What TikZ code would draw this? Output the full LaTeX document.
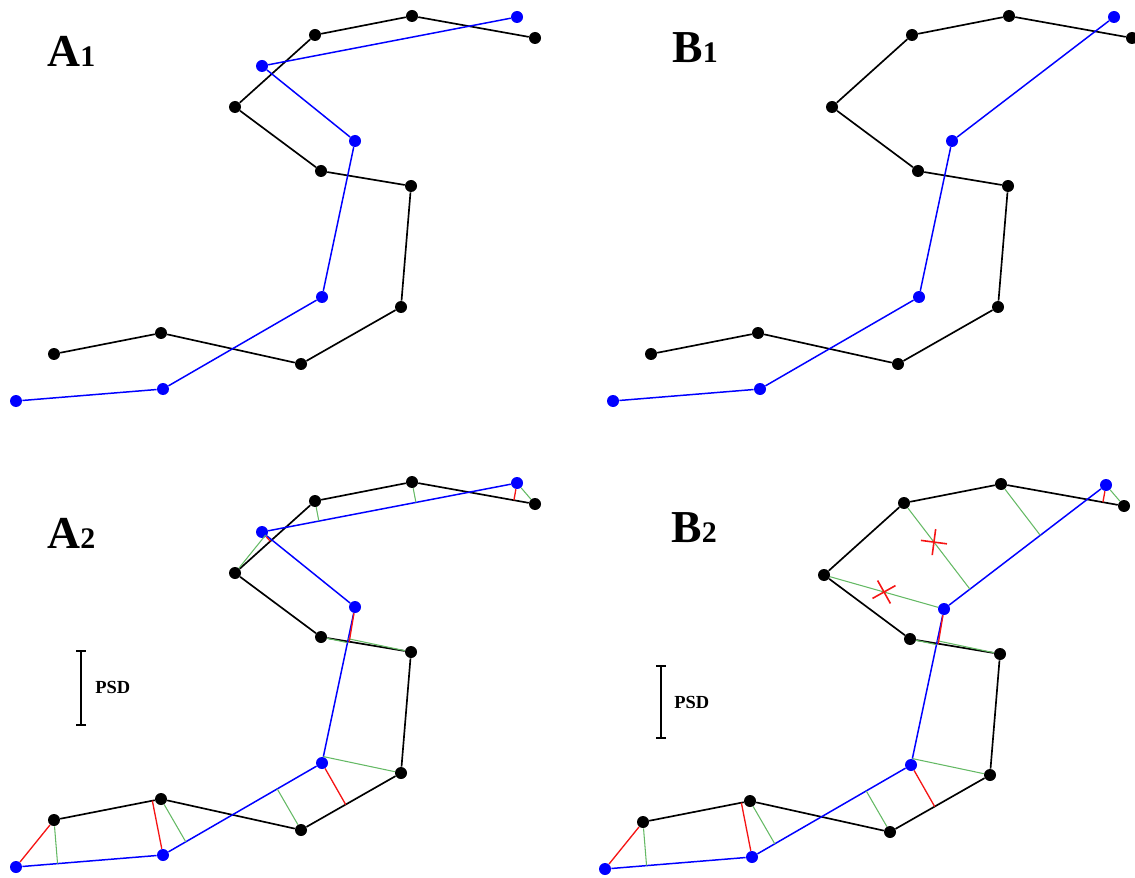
\documentclass[tikz,border=0pt]{standalone}
\usepackage{fontspec}
\setmainfont{Liberation Serif}
\usetikzlibrary{arrows.meta,calc,shapes.misc}

\definecolor{strandblue}{RGB}{0,0,255}
\definecolor{linkgreen}{RGB}{100,185,100}
\definecolor{linkred}{RGB}{245,20,20}

\tikzset{
  bdot/.style={circle,fill=black,inner sep=0pt,minimum size=.24cm},
  udot/.style={circle,fill=strandblue,inner sep=0pt,minimum size=.24cm},
  bline/.style={line width=.95pt,black},
  uline/.style={line width=.85pt,strandblue},
  glink/.style={line width=.6pt,linkgreen},
  rlink/.style={line width=.75pt,linkred},
  xmark/.style={cross out,draw=linkred,line width=.9pt,inner sep=0pt,minimum size=.34cm,sloped},
  panel/.style={anchor=base west,inner sep=0pt,font=\fontsize{26}{26}\selectfont\bfseries},
  psd/.style={anchor=base west,inner sep=0pt,font=\fontsize{10.5}{10.5}\selectfont\bfseries},
  psdbar/.style={line width=1.1pt,{Bar[width=.2cm]}-{Bar[width=.2cm]}}
}

% black strand, same in every panel
\newcommand{\blackstrand}{%
  \foreach \n/\x/\y in {1/54/354,2/161/333,3/301/364,4/401/307,5/411/186,
      6/321/171,7/235/107,8/315/35,9/412/16,10/535/38}
    \node[bdot] (b\n) at (\x,\y) {};
  \draw[bline] (b1)--(b2)--(b3)--(b4)--(b5)--(b6)--(b7)--(b8)--(b9)--(b10);}

% blue points, #1 = n/x/y list
\newcommand{\bluestrand}[1]{%
  \foreach \n/\x/\y in {#1} \node[udot] (c\n) at (\x,\y) {};}

% distance links shared by A2 and B2
\newcommand{\commonlinks}{%
  \draw[rlink] (c1)--(b1);
  \draw[glink] (b1)--($(c1)!(b1)!(c2)$);
  \draw[rlink] (c2)--($(b1)!(c2)!(b2)$);
  \draw[glink] (b2)--($(c2)!(b2)!(c3)$);
  \draw[glink] (b3)--($(c2)!(b3)!(c3)$);
  \draw[rlink] (c3)--($(b3)!(c3)!(b4)$);
  \draw[glink] (b4)--($(c3)!(b4)!(c4)$);
  \draw[glink] (b5)--($(c3)!(b5)!(c4)$);
  \draw[glink] (b6)--($(c3)!(b6)!(c4)$);
  \draw[rlink] (c4)--($(b6)!(c4)!(b5)$);
  \draw[rlink] (c6)--($(b9)!(c6)!(b10)$);
  \draw[glink] (b10)--(c6);}

\begin{document}
\begin{tikzpicture}[x=.02cm,y=-.02cm]
\useasboundingbox (0,0) rectangle (1135,878);

% A1
\begin{scope}[name prefix=a1-]
  \blackstrand
  \bluestrand{1/16/401,2/163/389,3/322/297,4/355/141,5/262/66,6/517/17}
  \draw[uline] (c1)--(c2)--(c3)--(c4)--(c5)--(c6);
\end{scope}

% B1
\begin{scope}[shift={(597,0)},name prefix=b1-]
  \blackstrand
  \bluestrand{1/16/401,2/163/389,3/322/297,4/355/141,6/517/17}
  \draw[uline] (c1)--(c2)--(c3)--(c4)--(c6);
\end{scope}

% A2
\begin{scope}[shift={(0,466)},name prefix=a2-]
  \blackstrand
  \bluestrand{1/16/401,2/163/389,3/322/297,4/355/141,5/262/66,6/517/17}
  \draw[uline] (c1)--(c2)--(c3)--(c4)--(c5)--(c6);
  \commonlinks
  \draw[rlink] (c5)--($(b7)!(c5)!(b8)$);
  \draw[glink] (b7)--($(c5)!(b7)!(c4)$);
  \draw[glink] (b8)--($(c5)!(b8)!(c6)$);
  \draw[glink] (b9)--($(c5)!(b9)!(c6)$);
\end{scope}

% B2
\begin{scope}[shift={(589,468)},name prefix=b2-]
  \blackstrand
  \bluestrand{1/16/401,2/163/389,3/322/297,4/355/141,6/517/17}
  \draw[uline] (c1)--(c2)--(c3)--(c4)--(c6);
  \commonlinks
  \draw[glink] (b7)--(c4) node[xmark,pos=.5] (x1) {};
  \draw[glink] (b8)--($(c4)!(b8)!(c6)$) node[xmark,pos=.42] (x2) {};
  \draw[glink] (b9)--($(c4)!(b9)!(c6)$);
\end{scope}

% panel labels
\node[panel] (la1) at (47,67) {A{\fontsize{17}{17}\selectfont 1}};
\node[panel] (lb1) at (672,63) {B{\fontsize{17}{17}\selectfont 1}};
\node[panel] (la2) at (47,548) {A{\fontsize{17}{17}\selectfont 2}};
\node[panel] (lb2) at (671,542) {B{\fontsize{17}{17}\selectfont 2}};

% scale bars
\coordinate (pa1) at (81,650); \coordinate (pa2) at (81,726);
\draw[psdbar] (pa1)--(pa2); \node[psd] (psda) at (95,693) {PSD};
\coordinate (pb1) at (661,665); \coordinate (pb2) at (661,739);
\draw[psdbar] (pb1)--(pb2); \node[psd] (psdb) at (674,708) {PSD};
\end{tikzpicture}
\end{document}
